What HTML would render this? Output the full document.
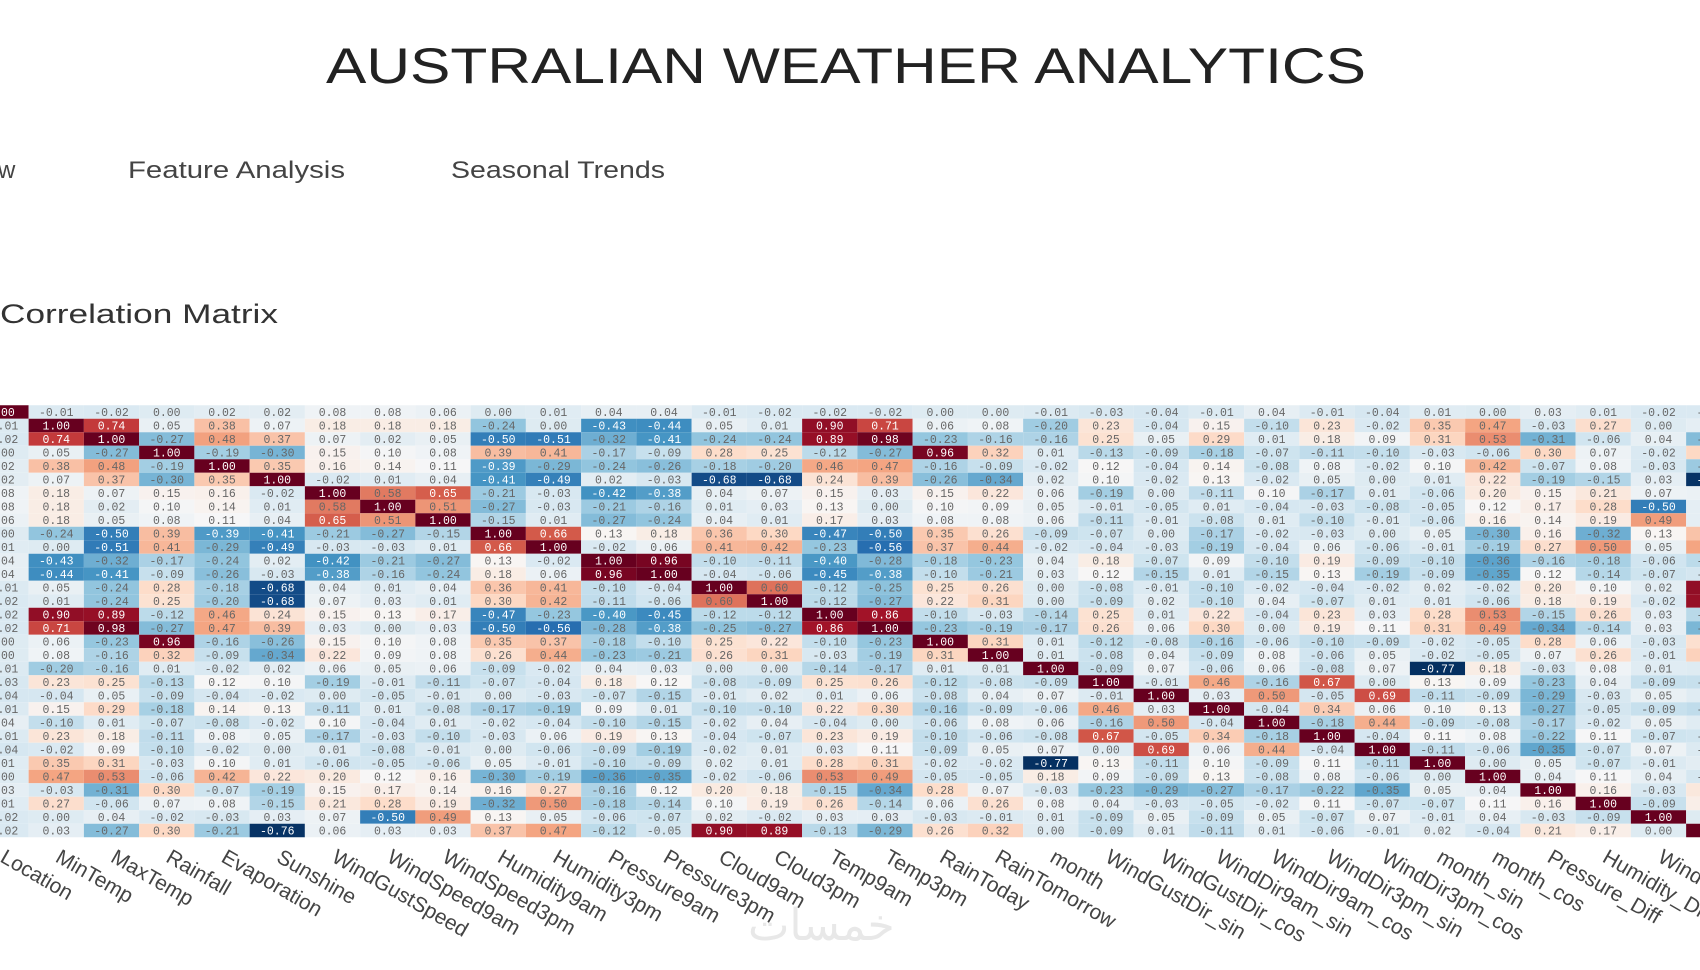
<!DOCTYPE html>
<html>
<head>
<meta charset="utf-8">
<style>
html,body{margin:0;padding:0;background:#fff;width:1700px;height:970px;overflow:hidden;}
svg{display:block;}
</style>
</head>
<body>
<svg id="root" width="1700" height="970" viewBox="0 0 1700 970">
  <text x="326" y="83" textLength="1040" lengthAdjust="spacingAndGlyphs" font-family="'Liberation Sans', sans-serif" font-size="50" fill="#222">AUSTRALIAN WEATHER ANALYTICS</text>
  <text x="-2" y="178" font-family="'Liberation Sans', sans-serif" font-size="24" fill="#444">w</text>
  <text x="128" y="178" textLength="217" lengthAdjust="spacingAndGlyphs" font-family="'Liberation Sans', sans-serif" font-size="24" fill="#444">Feature Analysis</text>
  <text x="451" y="178" textLength="214" lengthAdjust="spacingAndGlyphs" font-family="'Liberation Sans', sans-serif" font-size="24" fill="#444">Seasonal Trends</text>
  <text x="0" y="323" textLength="278" lengthAdjust="spacingAndGlyphs" font-family="'Liberation Sans', sans-serif" font-size="27" fill="#333">Correlation Matrix</text>
  <g id="heatmap"></g>
  <g id="xlabels"></g>
  <text x="748" y="940" font-family="'Liberation Sans', 'DejaVu Sans', sans-serif" font-size="44" fill="#e8e8e8">خمسات</text>
</svg>
<script>
const features = ["Location","MinTemp","MaxTemp","Rainfall","Evaporation","Sunshine","WindGustSpeed","WindSpeed9am","WindSpeed3pm","Humidity9am","Humidity3pm","Pressure9am","Pressure3pm","Cloud9am","Cloud3pm","Temp9am","Temp3pm","RainToday","RainTomorrow","month","WindGustDir_sin","WindGustDir_cos","WindDir9am_sin","WindDir9am_cos","WindDir3pm_sin","WindDir3pm_cos","month_sin","month_cos","Pressure_Diff","Humidity_Diff","WindSpeed_Diff","Temp_Diff"];
const row0 = [1.00,-0.01,-0.02,0.00,0.02,0.02,0.08,0.08,0.06,0.00,0.01,0.04,0.04,-0.01,-0.02,-0.02,-0.02,0.00,0.00,-0.01,-0.03,-0.04,-0.01,0.04,-0.01,-0.04,0.01,0.00,0.03,0.01,-0.02,-0.02];
const rowsRest = [
[0.74,0.05,0.38,0.07,0.18,0.18,0.18,-0.24,0.00,-0.43,-0.44,0.05,0.01,0.90,0.71,0.06,0.08,-0.20,0.23,-0.04,0.15,-0.10,0.23,-0.02,0.35,0.47,-0.03,0.27,0.00,0.03],
[-0.27,0.48,0.37,0.07,0.02,0.05,-0.50,-0.51,-0.32,-0.41,-0.24,-0.24,0.89,0.98,-0.23,-0.16,-0.16,0.25,0.05,0.29,0.01,0.18,0.09,0.31,0.53,-0.31,-0.06,0.04,-0.27],
[-0.19,-0.30,0.15,0.10,0.08,0.39,0.41,-0.17,-0.09,0.28,0.25,-0.12,-0.27,0.96,0.32,0.01,-0.13,-0.09,-0.18,-0.07,-0.11,-0.10,-0.03,-0.06,0.30,0.07,-0.02,0.30],
[0.35,0.16,0.14,0.11,-0.39,-0.29,-0.24,-0.26,-0.18,-0.20,0.46,0.47,-0.16,-0.09,-0.02,0.12,-0.04,0.14,-0.08,0.08,-0.02,0.10,0.42,-0.07,0.08,-0.03,-0.21],
[-0.02,0.01,0.04,-0.41,-0.49,0.02,-0.03,-0.68,-0.68,0.24,0.39,-0.26,-0.34,0.02,0.10,-0.02,0.13,-0.02,0.05,0.00,0.01,0.22,-0.19,-0.15,0.03,-0.76],
[0.58,0.65,-0.21,-0.03,-0.42,-0.38,0.04,0.07,0.15,0.03,0.15,0.22,0.06,-0.19,0.00,-0.11,0.10,-0.17,0.01,-0.06,0.20,0.15,0.21,0.07,0.06],
[0.51,-0.27,-0.03,-0.21,-0.16,0.01,0.03,0.13,0.00,0.10,0.09,0.05,-0.01,-0.05,0.01,-0.04,-0.03,-0.08,-0.05,0.12,0.17,0.28,-0.50,0.03],
[-0.15,0.01,-0.27,-0.24,0.04,0.01,0.17,0.03,0.08,0.08,0.06,-0.11,-0.01,-0.08,0.01,-0.10,-0.01,-0.06,0.16,0.14,0.19,0.49,0.03],
[0.66,0.13,0.18,0.36,0.30,-0.47,-0.50,0.35,0.26,-0.09,-0.07,0.00,-0.17,-0.02,-0.03,0.00,0.05,-0.30,0.16,-0.32,0.13,0.37],
[-0.02,0.06,0.41,0.42,-0.23,-0.56,0.37,0.44,-0.02,-0.04,-0.03,-0.19,-0.04,0.06,-0.06,-0.01,-0.19,0.27,0.50,0.05,0.47],
[0.96,-0.10,-0.11,-0.40,-0.28,-0.18,-0.23,0.04,0.18,-0.07,0.09,-0.10,0.19,-0.09,-0.10,-0.36,-0.16,-0.18,-0.06,-0.12],
[-0.04,-0.06,-0.45,-0.38,-0.10,-0.21,0.03,0.12,-0.15,0.01,-0.15,0.13,-0.19,-0.09,-0.35,0.12,-0.14,-0.07,-0.05],
[0.60,-0.12,-0.25,0.25,0.26,0.00,-0.08,-0.01,-0.10,-0.02,-0.04,-0.02,0.02,-0.02,0.20,0.10,0.02,0.90],
[-0.12,-0.27,0.22,0.31,0.00,-0.09,0.02,-0.10,0.04,-0.07,0.01,0.01,-0.06,0.18,0.19,-0.02,0.89],
[0.86,-0.10,-0.03,-0.14,0.25,0.01,0.22,-0.04,0.23,0.03,0.28,0.53,-0.15,0.26,0.03,-0.13],
[-0.23,-0.19,-0.17,0.26,0.06,0.30,0.00,0.19,0.11,0.31,0.49,-0.34,-0.14,0.03,-0.29],
[0.31,0.01,-0.12,-0.08,-0.16,-0.06,-0.10,-0.09,-0.02,-0.05,0.28,0.06,-0.03,0.26],
[0.01,-0.08,0.04,-0.09,0.08,-0.06,0.05,-0.02,-0.05,0.07,0.26,-0.01,0.32],
[-0.09,0.07,-0.06,0.06,-0.08,0.07,-0.77,0.18,-0.03,0.08,0.01,0.00],
[-0.01,0.46,-0.16,0.67,0.00,0.13,0.09,-0.23,0.04,-0.09,-0.09],
[0.03,0.50,-0.05,0.69,-0.11,-0.09,-0.29,-0.03,0.05,0.01],
[-0.04,0.34,0.06,0.10,0.13,-0.27,-0.05,-0.09,-0.11],
[-0.18,0.44,-0.09,-0.08,-0.17,-0.02,0.05,0.01],
[-0.04,0.11,0.08,-0.22,0.11,-0.07,-0.06],
[-0.11,-0.06,-0.35,-0.07,0.07,-0.01],
[0.00,0.05,-0.07,-0.01,0.02],
[0.04,0.11,0.04,-0.04],
[0.16,-0.03,0.21],
[-0.09,0.17],
[0.00],
[]
];
const zMin = -0.77, zMax = 1.0;
const palette = [[5,48,97],[33,102,172],[67,147,195],[146,197,222],[209,229,240],[247,247,247],[253,219,199],[244,165,130],[214,96,77],[178,24,43],[103,0,31]];

const N = features.length;
const M = [];
for (let i = 0; i < N; i++) { M.push(new Array(N).fill(0)); }
for (let j = 0; j < N; j++) { M[0][j] = row0[j]; M[j][0] = row0[j]; }
for (let i = 1; i < N; i++) {
  M[i][i] = 1.0;
  const r = rowsRest[i - 1];
  for (let k = 0; k < r.length; k++) { const j = i + 1 + k; M[i][j] = r[k]; M[j][i] = r[k]; }
}
const cellW = 55.25, cellH = 13.5, x0 = 1, y0 = 412;
function xScale(j) { return x0 + j * cellW; }
function yScale(i) { return y0 + i * cellH; }
function colorFor(v) {
  let t = (v - zMin) / (zMax - zMin); t = Math.max(0, Math.min(1, t));
  const p = t * (palette.length - 1), k = Math.min(palette.length - 2, Math.floor(p)), f = p - k;
  const a = palette[k], b = palette[k + 1];
  return 'rgb(' + [0,1,2].map(c => Math.round(a[c] + (b[c] - a[c]) * f)).join(',') + ')';
}
const NS = 'http://www.w3.org/2000/svg';
const hm = document.getElementById('heatmap');
for (let i = 0; i < N; i++) {
  for (let j = 0; j < N; j++) {
    const v = M[i][j];
    const cx = xScale(j), cy = yScale(i);
    if (cx + cellW / 2 < 0 || cx - cellW / 2 > 1700) continue;
    const r = document.createElementNS(NS, 'rect');
    r.setAttribute('x', (cx - cellW / 2).toFixed(2));
    r.setAttribute('y', (cy - cellH / 2).toFixed(2));
    r.setAttribute('width', cellW.toFixed(2));
    r.setAttribute('height', cellH.toFixed(2));
    r.setAttribute('fill', colorFor(v));
    
    
    hm.appendChild(r);
    const t = document.createElementNS(NS, 'text');
    t.setAttribute('x', cx.toFixed(2));
    t.setAttribute('y', (cy + 4).toFixed(2));
    t.setAttribute('text-anchor', 'middle');
    t.setAttribute('font-family', "'Liberation Mono', monospace");
    t.setAttribute('font-size', '11.5');
    const tt = (v - zMin) / (zMax - zMin);
    t.setAttribute('fill', (tt > 0.8 || tt < 0.23) ? '#ffffff' : '#666666');
    t.textContent = v.toFixed(2);
    
    
    hm.appendChild(t);
  }
}
const xl = document.getElementById('xlabels');
for (let j = 0; j < N; j++) {
  const cx = xScale(j);
  if (cx > 1700) continue;
  const t = document.createElementNS(NS, 'text');
  const ly = 861;
  t.setAttribute('x', (cx - 2).toFixed(2));
  t.setAttribute('y', ly);
  t.setAttribute('transform', 'rotate(30 ' + (cx - 2).toFixed(2) + ' ' + ly + ')');
  t.setAttribute('font-family', "'Liberation Sans', sans-serif");
  t.setAttribute('font-size', '21');
  t.setAttribute('fill', '#444');
  t.textContent = features[j];
  
  
  xl.appendChild(t);
}
</script>
</body>
</html>
